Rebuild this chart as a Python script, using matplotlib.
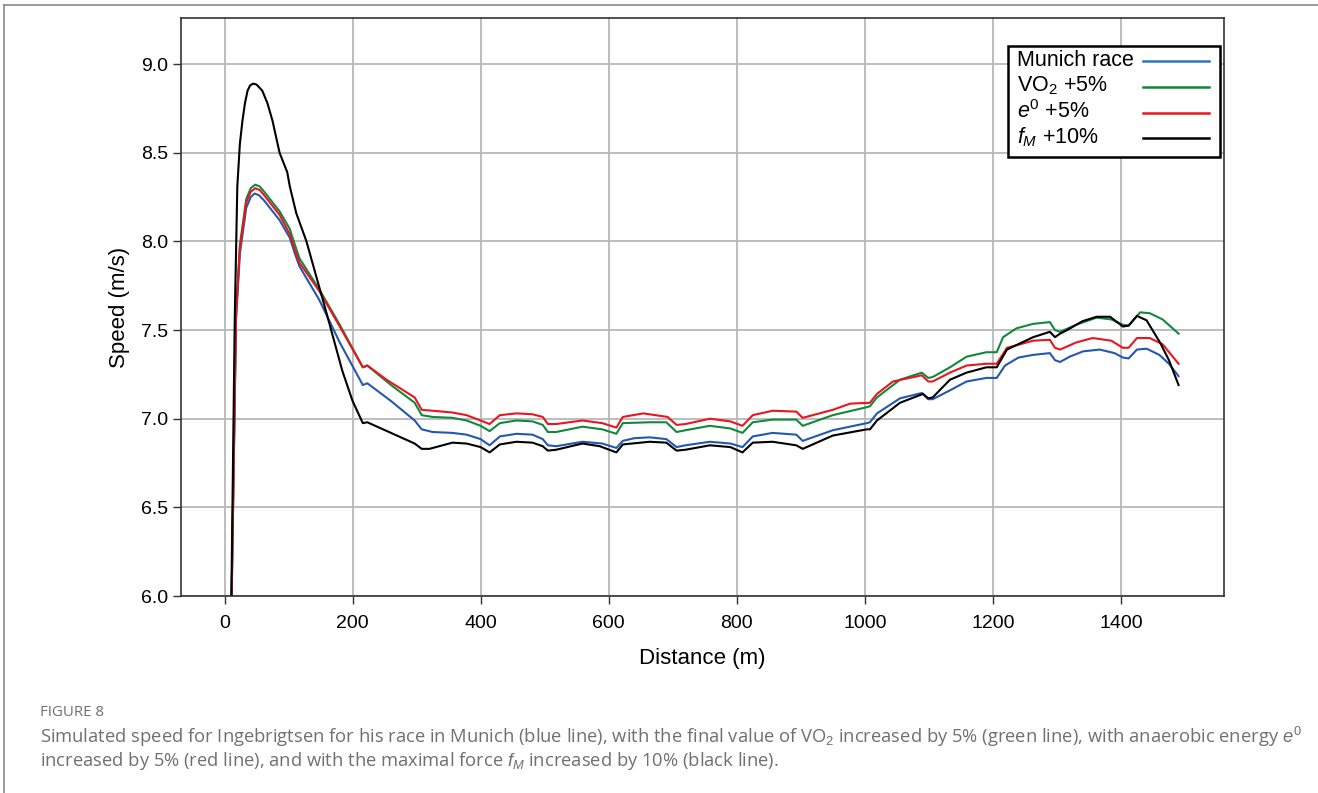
import matplotlib
matplotlib.use("Agg")
import matplotlib.pyplot as plt
from matplotlib.lines import Line2D
from matplotlib.patches import Rectangle

plt.rcParams['font.family'] = ['Liberation Sans', 'DejaVu Sans']
plt.rcParams['mathtext.fontset'] = 'custom'
plt.rcParams['mathtext.rm'] = 'Liberation Sans'
plt.rcParams['mathtext.it'] = 'Liberation Sans:italic'

# Munich race (blue)
munich_x = [9, 18, 24, 34, 41, 47, 54, 62, 86, 102, 110, 117, 148, 180, 216, 223, 260, 297, 308, 325,
            356, 378, 400, 414, 430, 456, 481, 497, 505, 518, 559, 590, 612, 622, 640, 664, 690,
            706, 720, 758, 790, 809, 825, 856, 893, 903, 950, 1003, 1008, 1019, 1055, 1089, 1099,
            1106, 1133, 1159, 1190, 1206, 1219, 1240, 1263, 1289, 1297, 1305, 1320, 1341, 1367,
            1390, 1403, 1412, 1425, 1440, 1460, 1475, 1490]
munich_y = [5.5, 7.56, 7.93, 8.19, 8.25, 8.27, 8.26, 8.23, 8.12, 8.02, 7.93, 7.86, 7.67, 7.43, 7.19, 7.20, 7.10,
            6.99, 6.94, 6.925, 6.92, 6.91, 6.885, 6.85, 6.90, 6.915, 6.91, 6.885, 6.85, 6.845, 6.87,
            6.86, 6.835, 6.875, 6.89, 6.895, 6.885, 6.84, 6.85, 6.87, 6.86, 6.84, 6.90, 6.92, 6.91,
            6.875, 6.935, 6.975, 6.98, 7.03, 7.115, 7.145, 7.11, 7.11, 7.16, 7.21, 7.23, 7.23, 7.30,
            7.345, 7.36, 7.37, 7.33, 7.32, 7.35, 7.38, 7.39, 7.37, 7.345, 7.34, 7.39, 7.395, 7.36,
            7.31, 7.24]

# VO2 +5% (green)
vo2_x = [9, 18, 24, 34, 41, 48, 55, 62, 86, 102, 110, 117, 148, 180, 216, 223, 260, 297, 308, 325, 356,
         378, 400, 414, 430, 456, 481, 497, 505, 518, 559, 590, 612, 622, 664, 690, 706, 720, 758,
         790, 809, 825, 856, 893, 903, 950, 1003, 1008, 1019, 1055, 1089, 1099, 1106, 1133, 1159,
         1190, 1206, 1216, 1237, 1263, 1289, 1297, 1305, 1330, 1362, 1385, 1403, 1412, 1430, 1445,
         1465, 1490]
vo2_y = [5.5, 7.60, 7.98, 8.24, 8.30, 8.32, 8.31, 8.28, 8.17, 8.07, 7.98, 7.905, 7.73, 7.53, 7.29, 7.30, 7.19,
         7.09, 7.02, 7.01, 7.005, 6.99, 6.96, 6.93, 6.975, 6.99, 6.985, 6.965, 6.925, 6.925, 6.955,
         6.94, 6.915, 6.975, 6.98, 6.98, 6.925, 6.935, 6.96, 6.945, 6.92, 6.98, 6.995, 6.995, 6.96,
         7.02, 7.065, 7.07, 7.12, 7.22, 7.26, 7.23, 7.235, 7.29, 7.35, 7.375, 7.375, 7.46, 7.51,
         7.535, 7.545, 7.50, 7.49, 7.53, 7.57, 7.56, 7.53, 7.525, 7.60, 7.595, 7.56, 7.48]

# e0 +5% (red)
e0_x = [9, 18, 24, 34, 41, 48, 55, 62, 86, 102, 110, 117, 148, 180, 216, 223, 253, 297, 308, 325, 356,
        378, 400, 414, 430, 456, 481, 497, 505, 518, 559, 590, 612, 622, 654, 692, 706, 720, 758,
        790, 809, 825, 856, 893, 903, 950, 977, 1008, 1019, 1044, 1089, 1099, 1106, 1133, 1159,
        1190, 1206, 1222, 1263, 1289, 1297, 1305, 1330, 1356, 1385, 1403, 1412, 1425, 1445, 1465,
        1490]
e0_y = [5.5, 7.58, 7.96, 8.22, 8.28, 8.30, 8.29, 8.26, 8.15, 8.04, 7.95, 7.88, 7.72, 7.52, 7.29, 7.30, 7.22,
        7.12, 7.05, 7.045, 7.035, 7.02, 6.99, 6.97, 7.02, 7.03, 7.025, 7.01, 6.97, 6.97, 6.99,
        6.975, 6.95, 7.01, 7.03, 7.01, 6.965, 6.97, 7.00, 6.985, 6.96, 7.02, 7.045, 7.04, 7.005,
        7.05, 7.085, 7.09, 7.14, 7.21, 7.245, 7.21, 7.21, 7.26, 7.30, 7.31, 7.31, 7.40, 7.44,
        7.445, 7.40, 7.39, 7.43, 7.455, 7.44, 7.40, 7.40, 7.455, 7.455, 7.42, 7.31]

# fM +10% (black)
fm_x = [9, 16, 20, 24, 28, 32, 36, 40, 45, 50, 59, 67, 75, 86, 98, 102, 112, 128, 159, 184, 200, 216,
        223, 260, 297, 308, 320, 356, 378, 400, 414, 430, 456, 481, 497, 505, 518, 559, 586, 612,
        622, 664, 690, 706, 720, 758, 790, 809, 825, 856, 893, 903, 950, 1003, 1008, 1019, 1055,
        1091, 1099, 1106, 1133, 1159, 1190, 1206, 1222, 1263, 1289, 1297, 1305, 1316, 1340, 1362,
        1383, 1403, 1412, 1425, 1440, 1461, 1475, 1490]
fm_y = [5.5, 7.56, 8.31, 8.55, 8.68, 8.78, 8.85, 8.88, 8.89, 8.885, 8.85, 8.78, 8.68, 8.50, 8.39,
        8.31, 8.16, 8.00, 7.60, 7.27, 7.10, 6.975, 6.98, 6.92, 6.86, 6.83, 6.83, 6.865, 6.86, 6.84,
        6.81, 6.855, 6.87, 6.865, 6.845, 6.82, 6.825, 6.86, 6.845, 6.81, 6.855, 6.87, 6.865, 6.82,
        6.825, 6.85, 6.84, 6.81, 6.865, 6.87, 6.85, 6.83, 6.905, 6.94, 6.94, 6.99, 7.09, 7.14,
        7.115, 7.12, 7.22, 7.26, 7.29, 7.29, 7.39, 7.46, 7.49, 7.46, 7.48, 7.50, 7.55, 7.575,
        7.575, 7.52, 7.525, 7.58, 7.555, 7.43, 7.33, 7.19]

labels = ["Munich race", "VO$_2$ +5%", "$e^0$ +5%", "$f_M$ +10%"]
colors = ["#2458b0", "#10893c", "#e8161e", "#000000"]
legend_colors = ["#2a78c0", "#10893c", "#e8161e", "#000000"]

fig = plt.figure(figsize=(13.18, 7.93), dpi=100)
ax = fig.add_axes([0.1373, 0.2484, 0.7914, 0.7289])

series = [(munich_x, munich_y), (vo2_x, vo2_y), (e0_x, e0_y), (fm_x, fm_y)]
for (xs, ys), lab, c in zip(series, labels, colors):
    ax.plot(xs, ys, color=c, lw=1.5, label=lab)

ax.set_xlim(-68, 1561)
ax.set_ylim(6.0, 9.26)
ax.set_xticks(range(0, 1401, 200))
ax.set_yticks([6.0, 6.5, 7.0, 7.5, 8.0, 8.5, 9.0])
ax.set_yticklabels(["6.0", "6.5", "7.0", "7.5", "8.0", "8.5", "9.0"])
ax.tick_params(labelsize=14, length=6, width=1, color="#333333")
ax.tick_params(axis="x", pad=8)
ax.grid(True, color="#b8b8b8", lw=1.3)
ax.set_axisbelow(True)
for s in ax.spines.values():
    s.set_color("#333333")
    s.set_linewidth(1.2)

ax.set_xlabel("Distance (m)", fontsize=16, labelpad=11)
ax.set_ylabel("Speed (m/s)", fontsize=16, labelpad=8)

# legend: text left, line right, drawn in axes fraction (pixel positions of the reference)
def ax_pt(px, py):
    return (px - 181) / 1043, (596 - py) / 578

x0, y0 = ax_pt(1008, 157)
x1, y1 = ax_pt(1220, 46)
ax.add_patch(Rectangle((x0, y0), x1 - x0, y1 - y0, transform=ax.transAxes, facecolor="white",
                       edgecolor="black", lw=1.8, zorder=5))
row_y = [60, 86, 112, 137]
for lab, c, py in zip(labels, legend_colors, row_y):
    tx, ty = ax_pt(1017, py)
    ax.text(tx, ty, lab, transform=ax.transAxes, fontsize=15.5, va="center", ha="left", zorder=6)
    lx0, ly = ax_pt(1143, py + 1)
    lx1, _ = ax_pt(1209, py + 1)
    ax.add_line(Line2D([lx0, lx1], [ly, ly], transform=ax.transAxes, color=c, lw=1.8, zorder=6))

# page border lines
fig.add_artist(Line2D([0.003, 1.0], [0.9935, 0.9935], transform=fig.transFigure,
                      color="#8a8a8a", lw=1.2))
fig.add_artist(Line2D([0.003, 0.003], [0.0, 0.9935], transform=fig.transFigure,
                      color="#8a8a8a", lw=1.2))

cap_color = "#707070"
fig.text(40 / 1318, 1 - 712 / 793, "FIGURE 8", fontsize=10.8, color=cap_color,
         family="Open Sans", va="center")
fig.text(40 / 1318, 1 - 737 / 793,
         "Simulated speed for Ingebrigtsen for his race in Munich (blue line), with the final value of "
         "VO$_2$ increased by 5% (green line), with anaerobic energy $e^0$",
         fontsize=13.2, color=cap_color, family="Open Sans", va="center")
fig.text(40 / 1318, 1 - 761 / 793,
         "increased by 5% (red line), and with the maximal force $f_M$ increased by 10% (black line).",
         fontsize=13.2, color=cap_color, family="Open Sans", va="center")

fig.savefig("out.png", dpi=100)
